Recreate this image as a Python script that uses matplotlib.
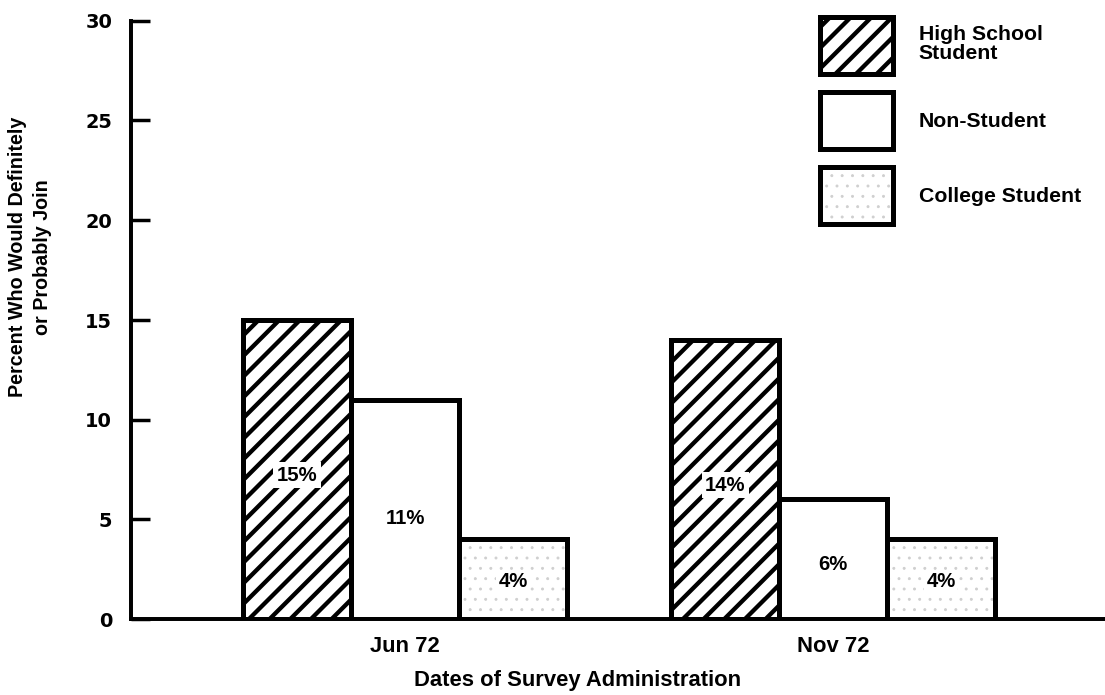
import matplotlib as mpl
import matplotlib.pyplot as plt
import numpy as np
from matplotlib.patches import Patch
from matplotlib.legend_handler import HandlerTuple

dates = ["Jun 72", "Nov 72"]
groups = ["High School\nStudent", "Non-Student", "College Student"]
high_school = [15, 14]
non_student = [11, 6]
college = [4, 4]

plt.rcParams["font.family"] = ["Liberation Sans", "DejaVu Sans"]
plt.rcParams["hatch.linewidth"] = 5

# dpi 62 so the "/" hatch spacing comes out like the printed stripes
dpi = 62
fig = plt.figure(figsize=(1105.3 / dpi, 695.3 / dpi), dpi=dpi)
ax = fig.add_axes([0.1186, 0.1094, 0.8814, 0.8604])

x = np.arange(len(dates))
w = 0.252
lw = 5.8
stipple = "#cfcfcf"

ax.bar(x - w, high_school, w, facecolor="white", edgecolor="black", hatch="/", linewidth=lw)
ax.bar(x, non_student, w, facecolor="white", edgecolor="black", linewidth=lw)
with mpl.rc_context({"hatch.linewidth": 1.0}):
    ax.bar(x + w, college, w, facecolor="white", edgecolor=stipple, hatch=".", linewidth=0)
    dot_handle = Patch(facecolor="white", edgecolor=stipple, hatch=".", linewidth=0)
ax.bar(x + w, college, w, fill=False, edgecolor="black", linewidth=lw)

# value labels inside the bars
for i in range(len(dates)):
    ax.text(x[i] - w, high_school[i] * 0.48, f"{high_school[i]}%", ha="center", va="center",
            fontsize=23.5, fontweight="bold",
            bbox=dict(facecolor="white", edgecolor="none", pad=4))
    ax.text(x[i], non_student[i] * 0.46, f"{non_student[i]}%", ha="center", va="center",
            fontsize=23.5, fontweight="bold")
    ax.text(x[i] + w, college[i] * 0.47, f"{college[i]}%", ha="center", va="center",
            fontsize=23.5, fontweight="bold",
            bbox=dict(facecolor="white", edgecolor="none", pad=2))

ax.set_xlim(-0.640, 1.636)
ax.set_ylim(0, 30)
ax.set_yticks([0, 5, 10, 15, 20, 25, 30])
ax.set_xticks(x, dates)
ax.tick_params(axis="y", direction="in", length=22, width=4, pad=22)
ax.tick_params(axis="x", length=0, pad=19, labelsize=25.5)
for lab in ax.get_yticklabels():
    lab.set_fontfamily("DejaVu Sans")
    lab.set_fontweight("bold")
    lab.set_fontsize(22.5)
for lab in ax.get_xticklabels():
    lab.set_fontweight("bold")

for s in ["top", "right"]:
    ax.spines[s].set_visible(False)
ax.spines["left"].set_linewidth(4.6)
ax.spines["bottom"].set_linewidth(4.6)

ax.set_ylabel("Percent Who Would Definitely\nor Probably Join", fontsize=23, fontweight="bold",
              linespacing=1.4)
ax.yaxis.set_label_coords(-0.081, 0.605)
ax.set_xlabel("Dates of Survey Administration", fontsize=25.5, fontweight="bold")
ax.xaxis.set_label_coords(0.458, -0.085)

handles = [
    Patch(facecolor="white", edgecolor="black", hatch="/", linewidth=lw),
    Patch(facecolor="white", edgecolor="black", linewidth=lw),
    (dot_handle, Patch(fill=False, edgecolor="black", linewidth=lw)),
]
leg = ax.legend(handles, groups, loc="upper left", bbox_to_anchor=(0.7074, 1.0067),
                frameon=False, borderpad=0, borderaxespad=0, fontsize=24.7,
                handlelength=3.44, handleheight=3.76, labelspacing=0.85, handletextpad=1.18,
                handler_map={tuple: HandlerTuple(ndivide=1)})
for t in leg.get_texts():
    t.set_fontweight("bold")
    t.set_linespacing(1.05)
# the legend copies of the stipple patch need the thin dots too
for h in leg.get_children()[0].findobj(mpl.patches.Rectangle):
    if h.get_hatch() == "." and hasattr(h, "set_hatch_linewidth"):
        h.set_hatch_linewidth(1.0)

fig.savefig("out.png", dpi=dpi)
